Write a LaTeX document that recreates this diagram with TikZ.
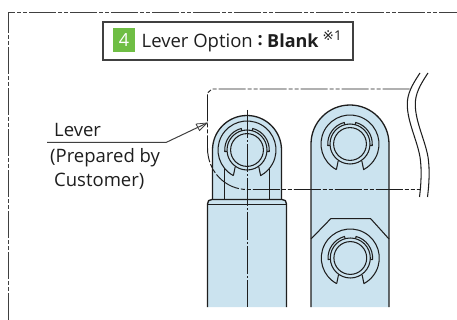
\documentclass[tikz,border=0pt]{standalone}
\usepackage{fontspec}
\setmainfont{Open Sans}
\newfontfamily\symfont{DejaVu Sans}
\usetikzlibrary{arrows.meta}
\definecolor{partblue}{HTML}{CBE3EF}
\definecolor{inkdark}{HTML}{1E1E1E}
\definecolor{framegrey}{HTML}{404040}
\definecolor{taggreen}{HTML}{6FBE44}
\tikzset{
  outline/.style={draw=inkdark,line width=1.3pt,line join=round},
  thinline/.style={draw=inkdark,line width=1.05pt,line join=round},
  frameline/.style={draw=framegrey,line width=1.1pt,dash pattern=on 27pt off 2pt on 4pt off 2pt on 4pt off 2pt},
  phantomline/.style={draw=inkdark,line width=0.95pt,dash pattern=on 27pt off 2pt on 4pt off 2pt on 4pt off 2pt},
  centreline/.style={draw=inkdark,line width=0.95pt,dash pattern=on 28pt off 2pt on 2pt off 2pt},
  label/.style={anchor=base west,inner sep=0pt,text=inkdark,font=\fontsize{18.5}{20}\selectfont},
}
\newcommand{\ringpart}[2]{%
  \begin{scope}[shift={(#1,#2)}]
    \draw[thinline] (118:29) arc[start angle=118,end angle=422,radius=29] -- (55:20.6);
    \draw[thinline] (118:29) -- (125:20.6);
    \draw[thinline] (0,0) circle[radius=16.4];
    \draw[thinline] (0,0) circle[radius=20];
    \draw[thinline] (176:20) -- (176:22.3) arc[start angle=176,end angle=255,radius=22.3] -- (255:20);
    \draw[thinline] (4:20) -- (4:22.3) arc[start angle=4,end angle=-75,radius=22.3] -- (-75:20);
  \end{scope}}
\begin{document}
\begin{tikzpicture}[x=1pt,y=-1pt]
\useasboundingbox (0,0) rectangle (457,320);
% outer frame
\coordinate (fa) at (8.5,320);
\coordinate (fb) at (8.5,12.5);
\coordinate (fc) at (457,12.5);
\draw[frameline] (fa) -- (fb) -- (fc);
% title
\node[draw=framegrey,line width=1.1pt,minimum width=250pt,minimum height=38pt,inner sep=0pt] (titlebox) at (228,41) {};
\node[fill=taggreen,minimum width=22pt,minimum height=24pt,inner sep=0pt,text=white,font=\fontsize{18}{20}\selectfont] (tag) at (124,40) {4};
\node[label] (title) at (141.5,47.3) {Lever Option};
\node[label,font=\fontsize{18}{20}\selectfont\bfseries] (colon) at (257.5,46) {:};
\node[label,font=\fontsize{18}{20}\selectfont\bfseries] (blank) at (267,47.3) {Blank};
\node[label,font=\fontsize{13.5}{15}\selectfont] (note) at (322.5,40.7) {{\symfont ※}1};
% left lever
\fill[partblue] (207.5,307) -- (207.5,204) -- (209,200) -- (212.5,199.5) -- (212.5,150) arc[start angle=180,end angle=360,radius=34.5] -- (281.5,199.5) -- (285,200) -- (286.5,204) -- (286.5,307) -- cycle;
\draw[outline] (212.5,199.5) -- (212.5,150) arc[start angle=180,end angle=360,radius=34.5] -- (281.5,199.5);
\draw[outline] (207.5,307) -- (207.5,204) .. controls (207.5,201) and (209,199.5) .. (212,199.5) -- (282,199.5) .. controls (285,199.5) and (286.5,201) .. (286.5,204) -- (286.5,307);
\draw[thinline] (207.5,204.3) -- (286.5,204.3);
\draw[thinline] (224.7,168.5) -- (224.7,199.5);
\draw[thinline] (269.3,168.5) -- (269.3,199.5);
\ringpart{247}{150}
\draw[centreline] (247,110) -- (247,307);
% right lever
\fill[partblue] (311,307) -- (311,144) arc[start angle=180,end angle=360,radius=39] -- (389,307) -- cycle;
\draw[outline] (311,307) -- (311,144) arc[start angle=180,end angle=360,radius=39] -- (389,307);
\ringpart{350}{144}
\draw[thinline] (311,239) -- (330.7,218.7) -- (370.7,218.7) -- (389,239);
\ringpart{350.3}{258}
% phantom
\draw[phantomline] (409.5,89) -- (212,89) -- (207.5,93) -- (207.5,148) .. controls (207.5,172) and (226,189.5) .. (247,189.5) -- (420.5,189.5);
% break lines
\draw[thinline] (420,73) .. controls (412,85) and (407,94) .. (407.3,105) .. controls (407.5,122) and (417,140) .. (420,157) .. controls (422,170) and (421,185) .. (419.5,197);
\draw[thinline] (428,73) .. controls (420,85) and (415,94) .. (415.3,105) .. controls (415.5,122) and (425,140) .. (428,157) .. controls (430,170) and (429,185) .. (427.5,197);
% leader
\node[label] (lever) at (54,136.7) {Lever};
\node[label] (prep) at (50,162.5) {(Prepared by};
\node[label] (cust) at (54,187) {Customer)};
\coordinate (la) at (47,142.5);
\coordinate (lb) at (166,142.5);
\coordinate (lc) at (207,123);
\draw[draw=framegrey,line width=1pt] (la) -- (lb) -- (lc);
\draw[draw=framegrey,line width=0.8pt] (196,124) -- (lc) -- (199.5,130.5) -- (196,124);
\end{tikzpicture}
\end{document}
